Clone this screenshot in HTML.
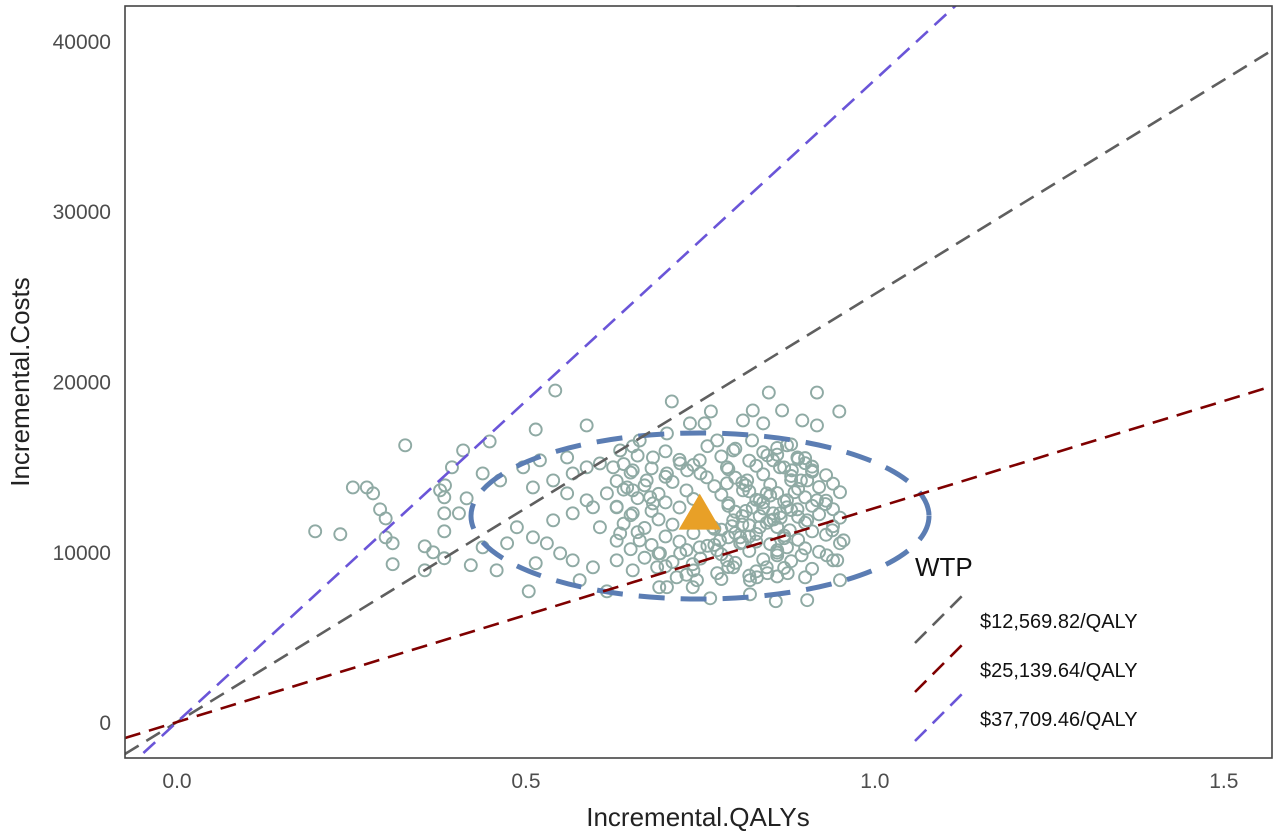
<!DOCTYPE html>
<html><head><meta charset="utf-8">
<style>
html,body{margin:0;padding:0;background:#fff;}
svg{display:block;font-family:"Liberation Sans",sans-serif;}
</style></head>
<body>
<svg id="chart" width="1280" height="834" viewBox="0 0 1280 834" xmlns="http://www.w3.org/2000/svg"></svg>
<script>
// ---- data ----
const xTicks = [0.0, 0.5, 1.0, 1.5];
const xTickLabels = ["0.0", "0.5", "1.0", "1.5"];
const yTicks = [0, 10000, 20000, 30000, 40000];
const yTickLabels = ["0", "10000", "20000", "30000", "40000"];
const wtpSlopes = [25139.64, 12569.82, 37709.46];
const wtpLabels = ["$12,569.82/QALY", "$25,139.64/QALY", "$37,709.46/QALY"];
const wtpColors = ["#5f5f5f", "#7f0000", "#6a55d8"];
const meanQaly = [0.749];
const meanCost = [12300];
const qalysA = [0.198,0.234,0.252,0.272,0.281,0.291,0.299,0.299,0.309,0.309,0.327,0.355,0.355,0.367,0.383,0.383,0.383,0.383,0.377,0.384,0.394,0.410,0.448,0.514,0.542,0.587,0.709,0.848,0.765,0.894,0.895,0.875,0.858,0.764,0.691,0.616,0.577,0.504,0.514,0.458,0.421,0.438,0.404,0.415,0.438,0.463,0.496,0.510,0.487,0.473,0.520,0.559,0.587,0.625,0.653,0.635,0.663,0.702,0.735,0.756,0.811,0.825,0.840,0.774,0.797,0.854,0.864,0.874,0.878,0.874,0.845,0.821,0.797,0.774,0.745,0.716,0.688,0.653,0.630,0.596,0.567,0.549,0.530,0.510,0.539,0.567,0.596,0.606,0.635,0.663,0.692,0.721,0.749,0.778,0.807,0.835,0.854,0.835,0.811,0.788,0.759,0.731,0.702,0.673,0.645,0.616,0.587,0.559,0.539,0.567,0.606,0.682,0.721,0.749,0.788,0.817,0.845,0.864,0.797,0.768,0.749,0.653,0.630,0.678,0.653,0.682,0.774,0.807,0.788,0.739,0.702,0.821,0.739,0.653,0.903,0.917,0.939,0.946,0.931,0.950,0.903,0.955,0.889,0.910,0.874,0.889,0.917,0.867,0.896,0.903,0.860,0.846,0.831,0.860,0.874,0.881,0.824,0.846,0.917,0.949,0.929,0.810,0.820,0.835,0.850,0.865,0.815,0.790,0.780,0.770,0.795,0.825,0.840,0.855,0.870,0.885,0.800,0.815,0.830,0.845,0.860];
const costsA = [11200,11030,13780,13780,13430,12490,11960,10850,10500,9270,16250,8910,10320,9970,9620,11200,12260,13200,13610,13900,14960,15950,16480,17180,19470,17420,18830,19350,18240,14190,9790,8740,7100,7270,7920,7680,8330,7680,9330,8910,9210,10260,12260,13140,14600,14190,14960,13780,11440,10500,15370,15540,14960,14960,14780,15950,16540,16950,17540,17540,17710,18300,17540,16540,15950,15370,14960,12610,11260,10260,9090,8330,9090,8740,8330,8500,9090,8910,9500,9090,9500,9910,10500,10850,11850,12260,12610,11440,11080,10670,9910,9910,10260,10670,10850,11440,12260,13020,13610,14020,14370,14780,14600,14190,13780,13430,13020,13430,14190,14600,15190,15540,15190,15370,14960,14190,13430,12260,11850,11440,11850,12260,12610,13200,13610,12840,10090,10500,9500,9270,7920,7500,7920,16190,14190,13020,11260,9500,9790,8330,7160,10670,12490,14780,16250,15540,17420,18300,17710,11850,10090,8740,8500,9790,13020,14780,16540,15660,19350,18240,12800,11600,10900,12100,13300,12000,13900,12700,11300,10400,11500,12600,12900,11900,10800,13500,11100,12400,10600,11700];
const qalysB = [0.70,0.76,0.80,0.84,0.88,0.90, 0.66,0.72,0.78,0.82,0.86,0.89,0.91, 0.64,0.68,0.74,0.79,0.83,0.87,0.90,0.93, 0.65,0.70,0.75,0.80,0.84,0.88,0.91,0.94, 0.63,0.67,0.71,0.77,0.81,0.85,0.88,0.92,0.95, 0.64,0.69,0.73,0.78,0.82,0.86,0.89,0.93, 0.66,0.70,0.74,0.79,0.83,0.87,0.90,0.94, 0.63,0.68,0.72,0.80,0.84,0.88,0.91,0.95, 0.65,0.69,0.81,0.85,0.89,0.92,0.94, 0.64,0.67,0.71,0.77,0.82,0.86,0.90,0.93, 0.66,0.70,0.74,0.79,0.83,0.87,0.91,0.95, 0.63,0.68,0.72,0.76,0.81,0.85,0.89,0.92, 0.65,0.69,0.73,0.78,0.82,0.86,0.90,0.94, 0.67,0.71,0.75,0.80,0.84,0.88,0.91, 0.70,0.74,0.79,0.83,0.87,0.90, 0.73,0.78,0.82,0.86,0.89];
const costsB = [16100,15900,16200,16050,15850,16300, 15500,15650,15400,15600,15350,15700,15450, 15000,15150,14900,15100,14850,15050,14950,15200, 14500,14650,14400,14600,14350,14550,14450,14700, 14000,14150,13900,14100,13850,14050,13950,14200,13800, 13500,13650,13400,13600,13350,13550,13450,13700, 13000,13150,12900,13100,12850,13050,12950,13200, 12500,12650,12400,12600,12350,12550,12450,12700, 12000,12150,11900,12100,11850,12050,12200, 11500,11650,11400,11600,11350,11550,11450,11700, 11000,11150,10900,11100,10850,11050,10950,11200, 10500,10650,10400,10600,10350,10550,10450,10700, 10000,10150,9900,10100,9850,10050,9950,10200, 9500,9650,9400,9600,9350,9550,9450, 9000,9150,8900,9100,8850,9050, 8500,8650,8400,8600,8550];
const qalys = qalysA.concat(qalysB);
const costs = costsA.concat(costsB);

// ---- scales ----
const L=125, R=1272, T=6, B=758;
const xMin=-0.0745, xMax=1.569, yMin=-2110, yMax=42050;
const sx = v => L + (v - xMin) / (xMax - xMin) * (R - L);
const sy = v => B - (v - yMin) / (yMax - yMin) * (B - T);

const svg = document.getElementById('chart');
const NS = "http://www.w3.org/2000/svg";
function mk(tag, attrs, parent){
  const e = document.createElementNS(NS, tag);
  for (const k in attrs) e.setAttribute(k, attrs[k]);
  (parent||svg).appendChild(e);
  return e;
}

const defs = mk('defs', {});
const cp = mk('clipPath', {id:'plotclip'}, defs);
mk('rect', {x:L, y:T, width:R-L, height:B-T}, cp);

const plot = mk('g', {'clip-path':'url(#plotclip)'});



qalys.forEach((q, i) => {
  const c = mk('circle', {cx:sx(q), cy:sy(costs[i]), r:6, fill:'none', stroke:'#8faaa4', 'stroke-width':1.9}, plot);
  
  
});

const el = mk('ellipse', {cx:700, cy:516, rx:229, ry:83, fill:'none', stroke:'#5b7db3', 'stroke-width':5, 'stroke-dasharray':'26 16'}, plot);



wtpSlopes.forEach((s, i) => {
  const ln = mk('line', {x1:sx(xMin), y1:sy(xMin*s), x2:sx(xMax), y2:sy(xMax*s), stroke:wtpColors[i], 'stroke-width':2.6, 'stroke-dasharray':'16 9'}, plot);
  
  
});

const mx = sx(meanQaly[0]), my = sy(meanCost[0]);
const tri = mk('polygon', {points:`${mx-21},${my+17} ${mx+21},${my+17} ${mx},${my-19}`, fill:'#e8a027'}, plot);



const fr = mk('rect', {x:L, y:T, width:R-L, height:B-T, fill:'none', stroke:'#444', 'stroke-width':1.6});



xTicks.forEach((t, i) => {
  const tx = mk('text', {x:sx(t), y:788, 'text-anchor':'middle', 'font-size':21, fill:'#4d4d4d'});
  tx.textContent = xTickLabels[i];
  
  
});
yTicks.forEach((t, i) => {
  const ty = mk('text', {x:111, y:sy(t)+8, 'text-anchor':'end', 'font-size':21, fill:'#4d4d4d'});
  ty.textContent = yTickLabels[i];
  
  
});

const xt = mk('text', {x:698, y:826, 'text-anchor':'middle', 'font-size':26, fill:'#222'});
xt.textContent = 'Incremental.QALYs';


const yt = mk('text', {x:0, y:0, 'text-anchor':'middle', 'font-size':26, fill:'#222', transform:'translate(29,382) rotate(-90)'});
yt.textContent = 'Incremental.Costs';



const lg = mk('g', {});


const lt = mk('text', {x:915, y:576, 'font-size':26, fill:'#111'}, lg);
lt.textContent = 'WTP';


wtpLabels.forEach((lab, i) => {
  const y0 = 643 + i*49;
  const k = mk('line', {x1:915, y1:y0, x2:963, y2:y0-48, stroke:wtpColors[i], 'stroke-width':2.6, 'stroke-dasharray':'16 9'}, lg);
  
  
  const tx = mk('text', {x:980, y:y0-15, 'font-size':20, fill:'#111'}, lg);
  tx.textContent = lab;
  
  
});
</script>
</body></html>
